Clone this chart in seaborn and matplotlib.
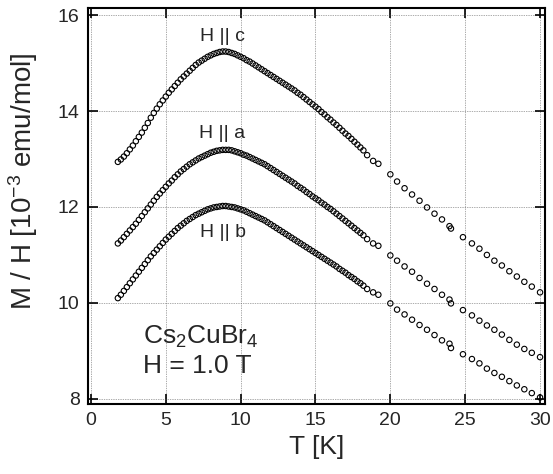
import numpy as np
import pandas as pd
import matplotlib
matplotlib.use("Agg")
import matplotlib.pyplot as plt
import seaborn as sns

# Temperature grid [K]: dense sweep, a few points near 19 K, then sparse points
T_dense = [1.8, 2.0, 2.2, 2.4, 2.6, 2.8, 3.0, 3.2, 3.4, 3.6,
           3.8, 4.0, 4.2, 4.4, 4.6, 4.8, 5.0, 5.2, 5.4, 5.6,
           5.8, 6.0, 6.2, 6.4, 6.6, 6.8, 7.0, 7.2, 7.4, 7.6,
           7.8, 8.0, 8.2, 8.4, 8.6, 8.8, 9.0, 9.2, 9.4, 9.6,
           9.8, 10.0, 10.2, 10.4, 10.6, 10.8, 11.0, 11.2, 11.4, 11.6,
           11.8, 12.0, 12.2, 12.4, 12.6, 12.8, 13.0, 13.2, 13.4, 13.6,
           13.8, 14.0, 14.2, 14.4, 14.6, 14.8, 15.0, 15.2, 15.4, 15.6,
           15.8, 16.0, 16.2, 16.4, 16.6, 16.8, 17.0, 17.2, 17.4, 17.6,
           17.8, 18.0, 18.2,
           18.45, 18.85, 19.2]
T_sparse = [20.0, 20.45, 20.95, 21.45, 21.95, 22.45, 22.95, 23.45, 23.95, 24.05,
            24.85, 25.45, 25.95, 26.45, 26.95, 27.45, 27.95, 28.45, 28.95, 29.45,
            30.0]

# M/H [1e-3 emu/mol]
chi_c_dense = [12.94, 12.99, 13.05, 13.12, 13.20, 13.28, 13.37, 13.46, 13.55, 13.65,
               13.75, 13.86, 13.96, 14.05, 14.14, 14.22, 14.30, 14.38, 14.45, 14.52,
               14.59, 14.66, 14.72, 14.78, 14.84, 14.90, 14.96, 15.01, 15.05, 15.09,
               15.13, 15.16, 15.19, 15.21, 15.23, 15.24, 15.24, 15.23, 15.21, 15.19,
               15.16, 15.13, 15.10, 15.06, 15.03, 14.99, 14.95, 14.91, 14.87, 14.83,
               14.79, 14.75, 14.71, 14.67, 14.63, 14.59, 14.55, 14.51, 14.47, 14.43,
               14.38, 14.34, 14.29, 14.24, 14.19, 14.14, 14.09, 14.04, 13.98, 13.93,
               13.87, 13.82, 13.76, 13.71, 13.65, 13.59, 13.53, 13.48, 13.42, 13.36,
               13.30, 13.24, 13.18,
               13.08, 12.96, 12.90]
chi_c_sparse = [12.68, 12.53, 12.39, 12.26, 12.13, 11.99, 11.86, 11.74, 11.60, 11.55,
                11.37, 11.24, 11.13, 11.00, 10.88, 10.78, 10.66, 10.55, 10.44, 10.34,
                10.22]

chi_a_dense = [11.24, 11.30, 11.37, 11.44, 11.51, 11.58, 11.65, 11.73, 11.81, 11.89,
               11.97, 12.05, 12.13, 12.21, 12.28, 12.35, 12.42, 12.49, 12.55, 12.62,
               12.68, 12.74, 12.79, 12.84, 12.89, 12.93, 12.97, 13.01, 13.04, 13.07,
               13.10, 13.13, 13.15, 13.17, 13.18, 13.19, 13.19, 13.19, 13.18, 13.16,
               13.14, 13.12, 13.09, 13.07, 13.04, 13.01, 12.98, 12.95, 12.92, 12.89,
               12.85, 12.81, 12.77, 12.73, 12.69, 12.65, 12.61, 12.57, 12.53, 12.49,
               12.44, 12.40, 12.36, 12.31, 12.27, 12.22, 12.18, 12.14, 12.09, 12.05,
               12.00, 11.96, 11.91, 11.86, 11.81, 11.76, 11.71, 11.66, 11.61, 11.56,
               11.51, 11.46, 11.41,
               11.33, 11.24, 11.19]
chi_a_sparse = [10.99, 10.88, 10.76, 10.65, 10.52, 10.40, 10.29, 10.17, 10.07, 9.99,
                9.85, 9.74, 9.63, 9.53, 9.44, 9.34, 9.23, 9.13, 9.04, 8.96,
                8.87]

chi_b_dense = [10.10, 10.17, 10.25, 10.33, 10.41, 10.49, 10.57, 10.65, 10.73, 10.81,
               10.89, 10.97, 11.04, 11.11, 11.18, 11.25, 11.32, 11.38, 11.44, 11.50,
               11.56, 11.61, 11.66, 11.71, 11.75, 11.79, 11.83, 11.86, 11.89, 11.92,
               11.95, 11.97, 11.99, 12.00, 12.01, 12.02, 12.02, 12.01, 12.00, 11.99,
               11.97, 11.95, 11.93, 11.90, 11.87, 11.84, 11.81, 11.78, 11.75, 11.72,
               11.68, 11.64, 11.60, 11.56, 11.52, 11.48, 11.44, 11.40, 11.36, 11.32,
               11.28, 11.24, 11.20, 11.16, 11.12, 11.08, 11.04, 11.00, 10.96, 10.92,
               10.88, 10.84, 10.80, 10.76, 10.71, 10.67, 10.63, 10.58, 10.54, 10.50,
               10.45, 10.41, 10.36,
               10.29, 10.22, 10.17]
chi_b_sparse = [9.99, 9.86, 9.76, 9.65, 9.54, 9.44, 9.33, 9.22, 9.15, 9.06,
                8.93, 8.83, 8.74, 8.63, 8.54, 8.46, 8.37, 8.28, 8.20, 8.12,
                8.03]

directions = ["c", "a", "b"]
x_ticks = [0, 5, 10, 15, 20, 25, 30]
y_ticks = [8, 10, 12, 14, 16]

T_all = T_dense + T_sparse
df = pd.DataFrame({
    "T": T_all * 3,
    "chi": chi_c_dense + chi_c_sparse + chi_a_dense + chi_a_sparse + chi_b_dense + chi_b_sparse,
    "dir": [d for d in directions for _ in T_all],
})

sns.set_style("ticks")
plt.rcParams["font.family"] = ["Liberation Sans", "DejaVu Sans"]
plt.rcParams["mathtext.fontset"] = "custom"
plt.rcParams["mathtext.rm"] = "Liberation Sans"
plt.rcParams["mathtext.it"] = "Liberation Sans:italic"

fig, ax = plt.subplots(figsize=(5.53, 4.74), dpi=100)
fig.subplots_adjust(left=0.159, right=0.9855, bottom=0.148, top=0.983)

for d in directions:
    sub = df[df["dir"] == d]
    sns.scatterplot(data=sub, x="T", y="chi", ax=ax, marker="o", s=15,
                    facecolor="none", edgecolor="black", linewidth=0.8,
                    legend=False, zorder=3)

ax.set_xlim(-0.2, 30.33)
ax.set_ylim(7.896, 16.146)
ax.set_xticks(x_ticks)
ax.set_yticks(y_ticks)
ax.set_axisbelow(True)
ax.grid(True, color="0.35", linestyle=(0, (1, 1.5)), linewidth=0.5)
ax.tick_params(direction="in", length=7, width=1.2, top=True, right=True,
               labelsize=14, pad=6, color="black")
for sp in ax.spines.values():
    sp.set_linewidth(1.5)
    sp.set_color("black")

ax.set_xlabel("T [K]", fontsize=19, labelpad=4)
ax.set_ylabel("M / H [10$^{-3}$ emu/mol]", fontsize=20)
ax.yaxis.set_label_coords(-0.105, 0.563)

ax.text(8.8, 15.56, "H || c", fontsize=14, ha="center", va="center")
ax.text(8.75, 13.54, "H || a", fontsize=14, ha="center", va="center")
ax.text(8.8, 11.46, "H || b", fontsize=14, ha="center", va="center")
ax.text(3.47, 9.29, "Cs$_2$CuBr$_4$", fontsize=19, ha="left", va="center")
ax.text(3.47, 8.69, "H = 1.0 T", fontsize=19, ha="left", va="center")

fig.savefig("out.png", dpi=100)
